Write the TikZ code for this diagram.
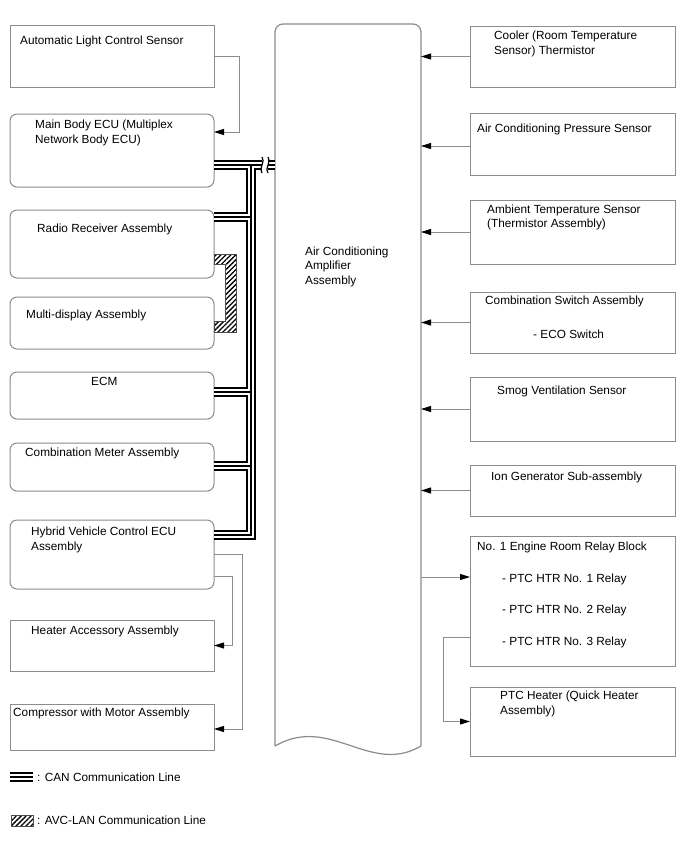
\documentclass[tikz,border=0pt]{standalone}
\usepackage{fontspec}
\setmainfont{Liberation Sans}
\usetikzlibrary{arrows.meta, positioning, patterns.meta}
\definecolor{edge}{gray}{0.55}
\tikzset{box/.style={rectangle,draw=edge,line width=1pt,anchor=north west,inner sep=0pt,outer sep=0pt},rbox/.style={box,rounded corners=7pt},txt/.style={anchor=base west,inner sep=0pt,align=left,font=\fontsize{11.8}{14.5}\selectfont},line/.style={draw=edge,line width=1pt,-{Triangle[length=10pt,width=6pt,color=black]}},wire/.style={draw=edge,line width=1pt},can/.style={line width=10pt,black,postaction={draw,white,line width=6pt},postaction={draw,black,line width=2pt}},avc/.style={draw=black!70,line width=0.8pt,pattern={Lines[angle=45,distance=3.5pt,line width=1.3pt]}}}

\begin{document}
\begin{tikzpicture}[x=1pt,y=-1pt]
\useasboundingbox (0,0) rectangle (688,852);
% amplifier in the middle
\node[inner sep=0pt,outer sep=0pt,anchor=north west,minimum width=146pt,minimum height=722pt] (amp) at (275,24) {};
\draw[edge,line width=1.2pt] (amp.south west) -- ([yshift=-8pt]amp.north west) arc[start angle=180,end angle=90,radius=8pt]
  -- ([xshift=-8pt]amp.north east) arc[start angle=90,end angle=0,radius=8pt] -- (amp.south east)
  .. controls (370,776) and (330,714) .. (amp.south west);
\node[txt] (amp-t) at (305,284) {Air Conditioning\\Amplifier\\Assembly};
% left column
\node[box, minimum width=204pt, minimum height=62pt] (alc) at (10,25) {};
\node[rbox, minimum width=204pt, minimum height=73pt] (mbe) at (10,114) {};
\node[rbox, minimum width=204pt, minimum height=68pt] (radio) at (10,210) {};
\node[rbox, minimum width=204pt, minimum height=52pt] (mdisp) at (10,297) {};
\node[rbox, minimum width=204pt, minimum height=47pt] (ecm) at (10,372) {};
\node[rbox, minimum width=204pt, minimum height=48pt] (cmeter) at (10,443) {};
\node[rbox, minimum width=204pt, minimum height=69pt] (hyb) at (10,520) {};
\node[box, minimum width=204pt, minimum height=51pt] (heat) at (10,620) {};
\node[box, minimum width=204pt, minimum height=46pt] (comp) at (10,704) {};
\node[txt] (alc-t) at (20,44.5) {Automatic Light Control Sensor};
\node[txt] (mbe-t) at (35,143) {Main Body ECU (Multiplex\\Network Body ECU)};
\node[txt] (radio-t) at (37,232) {Radio Receiver Assembly};
\node[txt] (mdisp-t) at (26,318) {Multi-display Assembly};
\node[txt] (ecm-t) at (91,385) {ECM};
\node[txt] (cmeter-t) at (25,456) {Combination Meter Assembly};
\node[txt] (hyb-t) at (31,550) {Hybrid Vehicle Control ECU\\Assembly};
\node[txt] (heat-t) at (31,634) {Heater Accessory Assembly};
\node[txt] (comp-t) at (13,716) {Compressor with Motor Assembly};
% right column
\node[box, minimum width=205pt, minimum height=61pt] (cool) at (470,26) {};
\node[box, minimum width=205pt, minimum height=62pt] (acp) at (470,113) {};
\node[box, minimum width=205pt, minimum height=64pt] (amb) at (470,200) {};
\node[box, minimum width=205pt, minimum height=61pt] (csw) at (470,292) {};
\node[box, minimum width=205pt, minimum height=64pt] (smog) at (470,377) {};
\node[box, minimum width=205pt, minimum height=51pt] (ion) at (470,465) {};
\node[box, minimum width=205pt, minimum height=130pt] (relay) at (470,536) {};
\node[box, minimum width=205pt, minimum height=69pt] (ptc) at (470,687) {};
\node[txt] (cool-t) at (494,54) {Cooler (Room Temperature\\Sensor) Thermistor};
\node[txt] (acp-t) at (477,132) {Air Conditioning Pressure Sensor};
\node[txt] (amb-t) at (487,227.5) {Ambient Temperature Sensor\\(Thermistor Assembly)};
\node[txt] (csw-t) at (485,304) {Combination Switch Assembly};
\node[txt] (eco-t) at (533,338) {- ECO Switch};
\node[txt] (smog-t) at (497,394) {Smog Ventilation Sensor};
\node[txt] (ion-t) at (491,480) {Ion Generator Sub-assembly};
\node[txt] (relay-t) at (477,550) {No. 1 Engine Room Relay Block};
\node[txt] (htr1-t) at (502,582) {- PTC HTR No. 1 Relay};
\node[txt] (htr2-t) at (502,613) {- PTC HTR No. 2 Relay};
\node[txt] (htr3-t) at (502,645) {- PTC HTR No. 3 Relay};
\node[txt] (ptc-t) at (500,714) {PTC Heater (Quick Heater\\Assembly)};
% signal lines
\draw[line] (alc.east) -- ++(25,0) |- (mbe.east |- 0,132);
\draw[line] (hyb.east |- 0,554) -- (242,554) |- (comp.east |- 0,729);
\draw[line] (hyb.east |- 0,576) -- (232,576) |- (heat.east);
\draw[line] (cool.west) -- (cool.west -| amp.east);
\draw[line] (acp.west |- 0,146) -- (amp.east |- 0,146);
\draw[line] (amb.west) -- (amb.west -| amp.east);
\draw[line] (csw.west) -- (csw.west -| amp.east);
\draw[line] (smog.west) -- (smog.west -| amp.east);
\draw[line] (ion.west) -- (ion.west -| amp.east);
\draw[line] (amp.east |- 0,577) -- (relay.west |- 0,577);
\draw[line] (relay.west |- 0,637) -- (443,637) |- (ptc.west);
% CAN bus
\draw[can] (mbe.east |- 0,165) -- (262,165) (268,165) -- (amp.west |- 0,165)
  (251,165) -- (251,535) -- (hyb.east |- 0,535)
  (radio.east |- 0,217) -- (251,217)
  (ecm.east |- 0,392) -- (251,392)
  (cmeter.east |- 0,466) -- (251,466);
\draw[line width=1.2pt] (262,157) .. controls (266,161) and (258,169) .. (262,173);
\draw[line width=1.2pt] (268,157) .. controls (272,161) and (264,169) .. (268,173);
% AVC-LAN
\draw[avc] (radio.east |- 0,254) -- (236,254) -- (236,332) -- (mdisp.east |- 0,332) -- (mdisp.east |- 0,321)
  -- (225,321) -- (225,264) -- (radio.east |- 0,264) -- cycle;
% legend
\draw[can] (10,777) -- (33,777);
\node[txt] (can-t) at (37,781) {: CAN Communication Line};
\draw[avc] (11,815) rectangle (33,826);
\node[txt] (avc-t) at (37,824.5) {: AVC-LAN Communication Line};
\end{tikzpicture}
\end{document}
